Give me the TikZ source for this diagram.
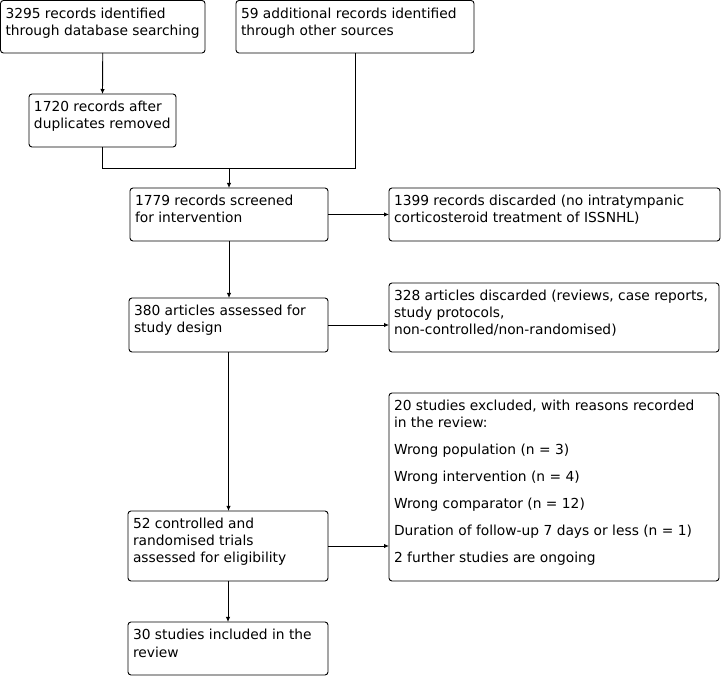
\documentclass[tikz,border=0pt]{standalone}
\usepackage{fontspec}
\setmainfont{DejaVu Sans}
\usetikzlibrary{arrows.meta}
\newcommand{\bxtext}[3]{\parbox[c][#2pt][t]{#1pt}{\raggedright\rule{0pt}{18pt}#3}}
\tikzset{
  flowbox/.style={draw, line width=0.9pt, rounded corners=3pt, anchor=north west,
    inner xsep=5pt, inner ysep=0pt, outer sep=0pt,
    font=\fontsize{13.8pt}{17pt}\selectfont},
  conn/.style={line width=0.9pt},
  arr/.style={conn, -{Latex[length=5pt,width=4.5pt]}}
}
\begin{document}
\begin{tikzpicture}[x=1pt,y=-1pt]
\useasboundingbox (0,0) rectangle (724,676);
\node[flowbox] (A) at (0.5,0.5) {\bxtext{194.5}{52.5}{3295 records identified\\through database searching}};
\node[flowbox] (B) at (236,0.5) {\bxtext{228}{52.5}{59 additional records identified\\through other sources}};
\node[flowbox] (C) at (29,94) {\bxtext{137}{53}{1720 records after\\duplicates removed}};
\node[flowbox] (D) at (130,188) {\bxtext{188}{53}{1779 records screened\\for intervention}};
\node[flowbox] (E) at (389,188) {\bxtext{321}{53}{1399 records discarded (no intratympanic\\corticosteroid treatment of ISSNHL)}};
\node[flowbox] (F) at (129,298) {\bxtext{189}{54}{380 articles assessed for\\study design}};
\node[flowbox] (G) at (389,283) {\bxtext{320}{69}{328 articles discarded (reviews, case reports,\\study protocols,\\non-controlled/non-randomised)}};
\node[flowbox] (H) at (389,393) {\bxtext{320}{188}{20 studies excluded, with reasons recorded\\in the review:\\[10pt]Wrong population (n = 3)\\[10pt]Wrong intervention (n = 4)\\[10pt]Wrong comparator (n = 12)\\[10pt]Duration of follow-up 7 days or less (n = 1)\\[10pt]2 further studies are ongoing}};
\node[flowbox] (I) at (128,511) {\bxtext{190}{70}{52 controlled and\\randomised trials\\assessed for eligibility}};
\node[flowbox] (J) at (128,622) {\bxtext{190}{53}{30 studies included in the\\review}};
\coordinate (j) at (D.north |- 0,168);
\draw[arr] (A.south) -- (C.north);
\draw[conn] (C.south) |- (j);
\draw[conn] (B.south) |- (j);
\draw[arr] (j) -- (D.north);
\draw[arr] (D.east) -- (E.west);
\draw[arr] (D.south) -- (D.south |- F.north);
\draw[arr] (F.east) -- (F.east -| G.west);
\draw[arr] (F.south) -- (F.south |- I.north);
\draw[arr] (I.east) -- (I.east -| H.west);
\draw[arr] (I.south) -- (I.south |- J.north);
\end{tikzpicture}
\end{document}
